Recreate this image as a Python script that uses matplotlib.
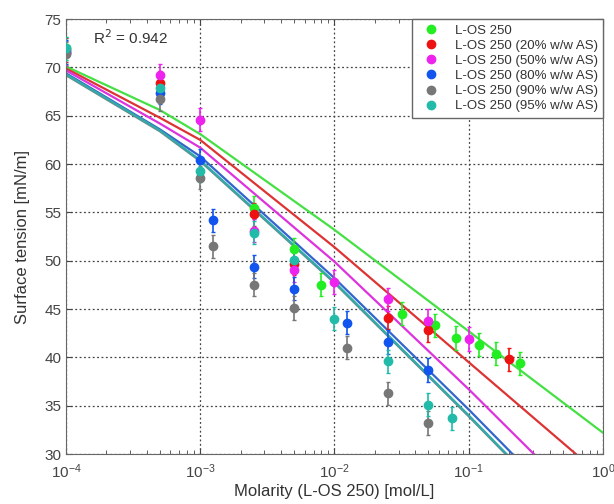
import matplotlib.pyplot as plt
import numpy as np

plt.rcParams['font.family'] = ['Liberation Sans', 'DejaVu Sans']

labels = ['L-OS 250', 'L-OS 250 (20% w/w AS)', 'L-OS 250 (50% w/w AS)',
          'L-OS 250 (80% w/w AS)', 'L-OS 250 (90% w/w AS)', 'L-OS 250 (95% w/w AS)']
point_colors = ['#22ee22', '#ee1111', '#ee22ee', '#1155ee', '#777777', '#22bbaa']
line_colors = ['#44e044', '#dd3333', '#dd33dd', '#3366cc', '#6a8a8a', '#33aaaa']

# measured points
x_green = [1e-4, 2.5e-3, 5e-3, 8e-3, 3.2e-2, 5.6e-2, 8e-2, 0.12, 0.16, 0.24]
y_green = [72.0, 55.5, 51.2, 47.5, 44.5, 43.3, 42.0, 41.3, 40.4, 39.4]
x_red = [1e-4, 5e-4, 2.5e-3, 5e-3, 2.5e-2, 5e-2, 0.2]
y_red = [71.8, 68.4, 54.8, 49.7, 44.1, 42.8, 39.8]
x_mag = [1e-4, 5e-4, 1e-3, 2.5e-3, 5e-3, 1e-2, 2.5e-2, 5e-2, 0.1]
y_mag = [71.5, 69.2, 64.6, 53.1, 49.0, 47.8, 46.0, 43.8, 41.9]
x_blue = [1e-4, 5e-4, 1e-3, 1.25e-3, 2.5e-3, 5e-3, 1.25e-2, 2.5e-2, 5e-2]
y_blue = [71.6, 67.4, 60.4, 54.2, 49.4, 47.1, 43.6, 41.6, 38.7]
x_gray = [1e-4, 5e-4, 1e-3, 1.25e-3, 2.5e-3, 5e-3, 1.25e-2, 2.5e-2, 5e-2]
y_gray = [71.4, 66.7, 58.6, 51.5, 47.5, 45.1, 41.0, 36.3, 33.2]
x_teal = [1e-4, 5e-4, 1e-3, 2.5e-3, 5e-3, 1e-2, 2.5e-2, 5e-2, 7.5e-2]
y_teal = [72.0, 67.9, 59.3, 52.9, 50.1, 44.0, 39.6, 35.1, 33.7]
err = 1.2

# model curves
x_fit = [1e-4, 5e-4, 1e-3, 1e-2, 1e-1, 1.0]
fit_green = [70.1, 65.6, 63.1, 53.2, 42.7, 32.2]
fit_red = [69.9, 64.8, 62.5, 51.4, 39.5, 27.6]
fit_mag = [69.7, 64.2, 61.7, 49.9, 36.7, 22.9]
fit_blue = [69.4, 63.6, 60.8, 48.2, 34.6, 20.5]
fit_gray = [69.2, 63.4, 60.3, 47.7, 33.9, 19.7]
fit_teal = [69.3, 63.5, 60.4, 47.8, 34.0, 19.8]

xs = [x_green, x_red, x_mag, x_blue, x_gray, x_teal]
ys = [y_green, y_red, y_mag, y_blue, y_gray, y_teal]
fits = [fit_green, fit_red, fit_mag, fit_blue, fit_gray, fit_teal]

fig = plt.figure(figsize=(6.14, 5.04), dpi=100)
ax = fig.add_axes([0.1075, 0.0992, 0.8745, 0.8628])

for f, c in zip(fits, line_colors):
    ax.plot(x_fit, f, color=c, lw=1.6, zorder=2)

for x, y, c, lab in zip(xs, ys, point_colors, labels):
    ax.errorbar(x, y, yerr=err, fmt='o', color=c, ms=6, elinewidth=1.2,
                capsize=1.5, label=lab, zorder=3)

ax.set_xscale('log')
ax.set_xlim(1e-4, 1)
ax.set_ylim(30, 75)
ax.set_yticks(np.arange(30, 76, 5))
ax.grid(True, which='major', color='#444444', linestyle=(0, (1.5, 2)), lw=0.9)
ax.tick_params(which='both', direction='in', top=True, right=True, labelsize=11, colors='#444444')
ax.tick_params(axis='x', which='major', pad=6)
ax.tick_params(which='major', length=4)
ax.tick_params(which='minor', length=3)
for s in ax.spines.values():
    s.set_color('#666666')

ax.text(1.6e-4, 72.4, 'R$^2$ = 0.942', fontsize=11, color='#333333')
ax.set_xlabel('Molarity (L-OS 250) [mol/L]', fontsize=12, color='#333333', labelpad=2)
ax.set_ylabel('Surface tension [mN/m]', fontsize=12, color='#333333', labelpad=10)

handles = [plt.Line2D([], [], marker='o', ls='', color=c, ms=6) for c in point_colors]
leg = ax.legend(handles, labels, loc='upper right', fontsize=9.5, fancybox=False,
                borderaxespad=0, handletextpad=0.8, labelspacing=0.22, framealpha=1)
leg.get_frame().set_edgecolor('#666666')
for t in leg.get_texts():
    t.set_color('#333333')

plt.savefig('out.png', dpi=100)
